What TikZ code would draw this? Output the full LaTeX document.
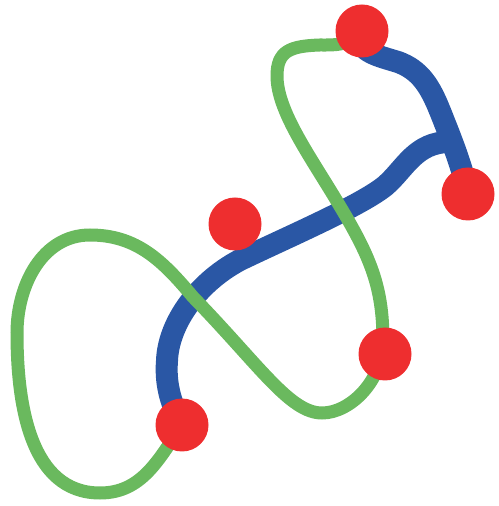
\documentclass[tikz,border=0pt]{standalone}
\usepackage{xcolor}
\usepackage{tikz}
\usetikzlibrary{backgrounds}
\definecolor{Knot}  {HTML}{6AB95E}
\definecolor{Strand}{HTML}{2A57A5}
\definecolor{Bead}  {HTML}{EE2E2F}

\begin{document}
\begin{tikzpicture}[x=1pt, y=1pt,
    bead/.style={circle, fill=Bead, inner sep=0pt, minimum size=53pt},
    knotline/.style={draw=Knot, line width=13pt, line cap=round},
    strandline/.style={draw=Strand, line width=22pt}]
  \useasboundingbox (0,0) rectangle (498,506);
  \node[bead] (top)   at (362,475) {};
  \node[bead] (right) at (468,312) {};
  \node[bead] (mid)   at (235,282) {};
  \node[bead] (low)   at (385,152) {};
  \node[bead] (foot)  at (182,81)  {};
  \coordinate (fork) at (450,364);
  \begin{scope}[on background layer]
    \draw[strandline] (top.center) .. controls (355,455) and (375,451) .. (398,444)
      .. controls (420,436) and (430,420) .. (440,395)
      .. controls (452,365) and (462,340) .. (right.center);
    \draw[strandline] (foot.center) .. controls (172,100) and (165,120) .. (167,145)
      .. controls (168,180) and (195,222) .. (240,246)
      .. controls (290,270) and (360,300) .. (385,320)
      .. controls (405,337) and (415,364) .. (fork);
    \draw[knotline] (foot.center) to[out=236, in=0] (100,13)
      to[out=180, in=-90] (17,173)
      to[out=90, in=180] (90,271)
      to[out=0, in=130] (193,209)
      .. controls (260,140) and (290,93) .. (322,93)
      .. controls (350,93) and (383,125) .. (383,165)
      .. controls (383,220) and (370,250) .. (338,303)
      .. controls (310,350) and (277,395) .. (277,430)
      .. controls (277,455) and (290,460) .. (320,461)
      .. controls (335,461) and (350,460) .. (top.center);
  \end{scope}
\end{tikzpicture}
\end{document}
